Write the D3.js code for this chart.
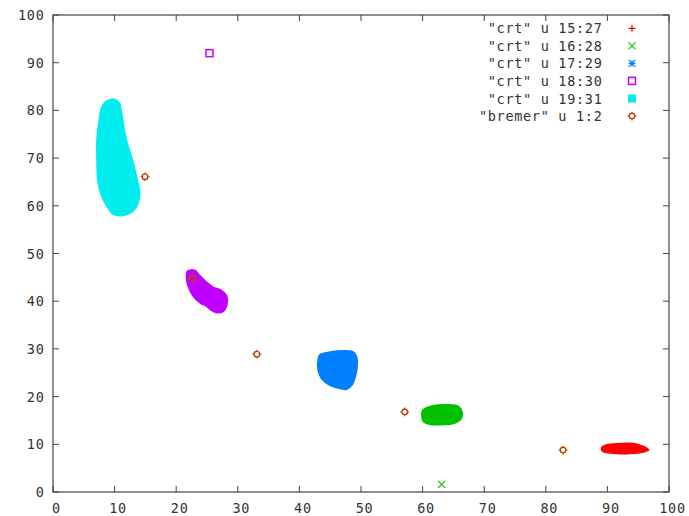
<!DOCTYPE html>
<html><head><meta charset="utf-8">
<script src="https://cdn.jsdelivr.net/npm/d3@7"></script>
<style>body{margin:0;background:#fff}svg{display:block}text{font-family:"DejaVu Sans Mono",monospace;font-size:13.5px;fill:#333;letter-spacing:0.7px}</style>
</head><body><svg id="c" width="689" height="516"></svg>
<script>
const xTicks = [0,10,20,30,40,50,60,70,80,90,100];
const yTicks = [0,10,20,30,40,50,60,70,80,90,100];
const legendLabels = ['"crt" u 15:27','"crt" u 16:28','"crt" u 17:29','"crt" u 18:30','"crt" u 19:31','"bremer" u 1:2'];
// cluster outlines (data units)
const crt1527 = [[89.07,9.16],[89.89,9.85],[92.05,10.1],[94.2,10.1],[95.83,9.5],[96.64,8.81],[95.83,8.45],[93.67,8.11],[91.51,8.11],[89.89,8.32],[89.24,8.6]];
const crt1628 = [[60.11,17.19],[61.74,18.03],[63.91,18.24],[65.8,17.88],[66.35,16.83],[66.18,15.3],[64.98,14.4],[63.36,14.19],[61.48,14.19],[60.23,14.74],[59.9,16.0]];
const crt1628Single = [[63.1,1.6]];
const crt1729 = [[43.34,28.72],[44.97,29.29],[47.13,29.56],[48.75,29.29],[49.3,28.03],[49.3,25.93],[49.03,24.17],[48.49,22.43],[47.68,21.59],[46.59,21.74],[44.97,22.43],[43.62,23.84],[43.07,25.58],[43.07,27.67]];
const crt1830 = [[21.87,46.28],[22.96,46.43],[23.78,45.38],[24.87,43.97],[25.94,42.92],[27.31,42.23],[28.13,41.18],[28.22,39.43],[27.57,37.88],[26.5,37.67],[25.68,38.17],[24.87,39.08],[24.06,39.56],[22.96,40.82],[22.15,42.58],[21.71,44.68]];
const crt1830Single = [[25.4,92.0]];
const crt1931 = [[9.9,82.3],[8.6,81.8],[7.9,80.5],[7.5,77.6],[7.18,74.1],[7.18,69.2],[7.34,65.0],[7.9,62.2],[8.71,60.1],[9.79,58.3],[11.41,58.0],[13.04,59.0],[13.85,60.8],[14.01,62.9],[13.59,65.7],[12.78,69.9],[11.96,73.4],[11.41,76.9],[11.0,80.2],[10.7,81.6]];
const bremer = [[14.94,66.1],[22.68,44.8],[33.1,28.9],[57.1,16.8],[82.8,8.8]];

const colors = ["#ff0000","#00c000","#0080ff","#c000ff","#00eeee","#c04000"];
const L=53, R=669, T=15, B=492;
const svg = d3.select("#c");
const x = d3.scaleLinear().domain([0,100]).range([L,R]);
const y = d3.scaleLinear().domain([0,100]).range([B,T]);
const axisCol = "#444";

const g = svg.append("g").attr("stroke",axisCol).attr("stroke-width",1);
xTicks.forEach(v=>{
  g.append("line").attr("x1",x(v)).attr("x2",x(v)).attr("y1",B).attr("y2",B-6);
  g.append("line").attr("x1",x(v)).attr("x2",x(v)).attr("y1",T).attr("y2",T+6);
});
yTicks.forEach(v=>{
  g.append("line").attr("x1",L).attr("x2",L+6).attr("y1",y(v)).attr("y2",y(v));
  g.append("line").attr("x1",R).attr("x2",R-6).attr("y1",y(v)).attr("y2",y(v));
});
svg.append("rect").attr("x",L).attr("y",T).attr("width",R-L).attr("height",B-T).attr("fill","none").attr("stroke",axisCol).attr("stroke-width",1.2);
svg.append("g").selectAll("text").data(xTicks).join("text").attr("x",d=>x(d)+3.5).attr("y",513).attr("text-anchor","middle").text(d=>d);
svg.append("g").selectAll("text").data(yTicks).join("text").attr("x",44.5).attr("y",d=>y(d)+5).attr("text-anchor","end").text(d=>d);

const line = d3.line().x(d=>x(d[0])).y(d=>y(d[1])).curve(d3.curveCatmullRomClosed);
const blobs = [[crt1527,0],[crt1628,1],[crt1729,2],[crt1830,3],[crt1931,4]];
blobs.forEach(([pts,i])=>{
  svg.append("path").attr("d",line(pts)).attr("fill",colors[i]).attr("stroke",colors[i]).attr("stroke-width",2).attr("stroke-linejoin","round");
});

function marker(sel,type,cx,cy,col){
  const s=3.5;
  if(type===0){sel.append("path").attr("d",`M${cx-s},${cy}H${cx+s}M${cx},${cy-s}V${cy+s}`).attr("stroke",col).attr("stroke-width",1.2);}
  if(type===1){sel.append("path").attr("d",`M${cx-s},${cy-s}L${cx+s},${cy+s}M${cx-s},${cy+s}L${cx+s},${cy-s}`).attr("stroke",col).attr("stroke-width",1.1);}
  if(type===2){sel.append("path").attr("d",`M${cx-s},${cy}H${cx+s}M${cx},${cy-s}V${cy+s}M${cx-s},${cy-s}L${cx+s},${cy+s}M${cx-s},${cy+s}L${cx+s},${cy-s}`).attr("stroke",col).attr("stroke-width",1.1);}
  if(type===3){sel.append("rect").attr("x",cx-3.5).attr("y",cy-3.5).attr("width",7).attr("height",7).attr("fill","none").attr("stroke",col).attr("stroke-width",1.5);}
  if(type===4){sel.append("rect").attr("x",cx-4).attr("y",cy-4).attr("width",8).attr("height",8).attr("fill",col);}
  if(type===5){sel.append("circle").attr("cx",cx).attr("cy",cy).attr("r",2.8).attr("fill","none").attr("stroke",col).attr("stroke-width",1.4);
    sel.append("path").attr("d",`M${cx},${cy-4.5}V${cy-2.8}M${cx},${cy+2.8}V${cy+4.5}M${cx-4.5},${cy}H${cx-2.8}M${cx+2.8},${cy}H${cx+4.5}`).attr("stroke",col).attr("stroke-width",1);}
}
const pts = svg.append("g");
crt1628Single.forEach(d=>marker(pts,1,x(d[0]),y(d[1]),colors[1]));
crt1830Single.forEach(d=>marker(pts,3,x(d[0]),y(d[1]),colors[3]));
bremer.forEach(d=>marker(pts,5,x(d[0]),y(d[1]),colors[5]));

const lg = svg.append("g");
legendLabels.forEach((t,i)=>{
  const cy = 28.3 + i*17.55;
  lg.append("text").attr("x",602.5).attr("y",cy+5).attr("text-anchor","end").text(t);
  marker(lg,i,632,cy,colors[i]);
});
</script></body></html>
